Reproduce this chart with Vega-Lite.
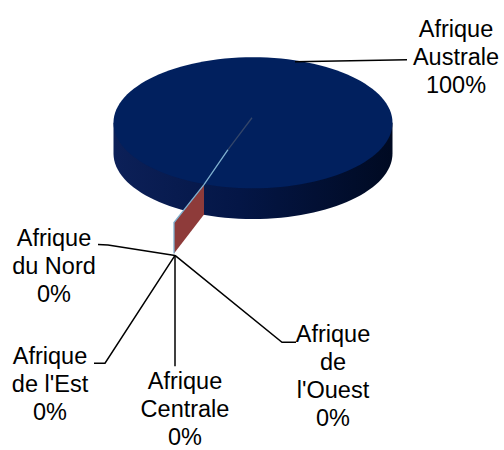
{
  "$schema": "https://vega.github.io/schema/vega-lite/v6.json",
  "width": 504,
  "height": 450,
  "padding": 0,
  "autosize": {"type": "fit", "contains": "padding"},
  "background": "#ffffff",
  "config": {"view": {"stroke": null}},
  "datasets": {
    "regions": [
      {"region": "Afrique Australe", "pct": 100, "label": "Afrique\nAustrale\n100%", "lx": 1.4552, "ly": 0.6165},
      {"region": "Afrique du Nord", "pct": 0, "label": "Afrique\ndu Nord\n0%", "lx": -1.4265, "ly": -0.8889},
      {"region": "Afrique de l'Est", "pct": 0, "label": "Afrique\nde l'Est\n0%", "lx": -1.4552, "ly": -1.7348},
      {"region": "Afrique Centrale", "pct": 0, "label": "Afrique\nCentrale\n0%", "lx": -0.4875, "ly": -1.914},
      {"region": "Afrique de l'Ouest", "pct": 0, "label": "Afrique\nde\nl'Ouest\n0%", "lx": 0.5735, "ly": -1.5771}
    ],
    "pie": [
      {"region": "Afrique Australe", "pct": 100, "cx": 0, "cy": 0}
    ],
    "cutface": [
      {"part": "exploded slices", "cx": -0.5663, "cy": -0.7168, "cy2": -0.9391},
      {"part": "exploded slices", "cx": -0.3513, "cy": -0.4444, "cy2": -0.6595}
    ],
    "edges": [
      {"edge": "light", "seq": 1, "cx": -0.5663, "cy": -0.9391},
      {"edge": "light", "seq": 2, "cx": -0.5663, "cy": -0.7168},
      {"edge": "light", "seq": 3, "cx": -0.3513, "cy": -0.4444},
      {"edge": "light", "seq": 4, "cx": -0.1792, "cy": -0.1935},
      {"edge": "dark", "seq": 1, "cx": -0.1792, "cy": -0.1935},
      {"edge": "dark", "seq": 2, "cx": -0.0072, "cy": 0.0358}
    ],
    "leaders": [
      {"region": "Afrique Australe", "seq": 1, "cx": 0.3011, "cy": 0.4373},
      {"region": "Afrique Australe", "seq": 2, "cx": 1.1039, "cy": 0.4516},
      {"region": "Afrique du Nord", "seq": 1, "cx": -1.1111, "cy": -0.8746},
      {"region": "Afrique du Nord", "seq": 2, "cx": -1.0394, "cy": -0.8781},
      {"region": "Afrique du Nord", "seq": 3, "cx": -0.5591, "cy": -0.9534},
      {"region": "Afrique de l'Est", "seq": 1, "cx": -1.1398, "cy": -1.7276},
      {"region": "Afrique de l'Est", "seq": 2, "cx": -1.0609, "cy": -1.7276},
      {"region": "Afrique de l'Est", "seq": 3, "cx": -0.5591, "cy": -0.9534},
      {"region": "Afrique Centrale", "seq": 1, "cx": -0.5591, "cy": -0.9534},
      {"region": "Afrique Centrale", "seq": 2, "cx": -0.5591, "cy": -1.7491},
      {"region": "Afrique de l'Ouest", "seq": 1, "cx": -0.5591, "cy": -0.9534},
      {"region": "Afrique de l'Ouest", "seq": 2, "cx": 0.2079, "cy": -1.5771},
      {"region": "Afrique de l'Ouest", "seq": 3, "cx": 0.3082, "cy": -1.5771}
    ]
  },
  "layer": [
    {
      "data": {"name": "pie"},
      "mark": {
        "type": "point",
        "filled": true,
        "opacity": 1,
        "strokeWidth": 0,
        "size": 77841,
        "shape": "M-1,0L-1,0.2201C-1,0.4794,-0.5523,0.6896,0,0.6896C0.5523,0.6896,1,0.4794,1,0.2201L1,0Z",
        "fill": {
          "gradient": "linear",
          "x1": 0, "y1": 0, "x2": 1, "y2": 0,
          "stops": [
            {"offset": 0, "color": "#0c2058"},
            {"offset": 0.45, "color": "#041646"},
            {"offset": 1, "color": "#000a22"}
          ]
        }
      },
      "encoding": {
        "x": {"field": "cx", "type": "quantitative", "scale": {"domain": [-1.8136, 1.7993], "nice": false, "zero": false}, "axis": null},
        "y": {"field": "cy", "type": "quantitative", "scale": {"domain": [-2.3441, 0.8817], "nice": false, "zero": false}, "axis": null}
      }
    },
    {
      "data": {"name": "pie"},
      "mark": {
        "type": "point",
        "filled": true,
        "opacity": 1,
        "strokeWidth": 0,
        "size": 77841,
        "shape": "M-1,0C-1,-0.2593,-0.5523,-0.4695,0,-0.4695C0.5523,-0.4695,1,-0.2593,1,0C1,0.2593,0.5523,0.4695,0,0.4695C-0.5523,0.4695,-1,0.2593,-1,0Z",
        "fill": "#01205e"
      },
      "encoding": {
        "x": {"field": "cx", "type": "quantitative", "scale": {"domain": [-1.8136, 1.7993], "nice": false, "zero": false}, "axis": null},
        "y": {"field": "cy", "type": "quantitative", "scale": {"domain": [-2.3441, 0.8817], "nice": false, "zero": false}, "axis": null}
      }
    },
    {
      "data": {"name": "cutface"},
      "mark": {"type": "area", "color": "#8e3b3a", "opacity": 1},
      "encoding": {
        "x": {"field": "cx", "type": "quantitative", "scale": {"domain": [-1.8136, 1.7993], "nice": false, "zero": false}, "axis": null},
        "y": {"field": "cy", "type": "quantitative", "scale": {"domain": [-2.3441, 0.8817], "nice": false, "zero": false}, "axis": null},
        "y2": {"field": "cy2"}
      }
    },
    {
      "data": {"name": "edges"},
      "mark": {"type": "line", "strokeWidth": 1.3},
      "encoding": {
        "x": {"field": "cx", "type": "quantitative", "scale": {"domain": [-1.8136, 1.7993], "nice": false, "zero": false}, "axis": null},
        "y": {"field": "cy", "type": "quantitative", "scale": {"domain": [-2.3441, 0.8817], "nice": false, "zero": false}, "axis": null},
        "detail": {"field": "edge", "type": "nominal"},
        "order": {"field": "seq", "type": "quantitative"},
        "color": {"field": "edge", "type": "nominal", "scale": {"domain": ["light", "dark"], "range": ["#7fb0cf", "#34466a"]}, "legend": null}
      }
    },
    {
      "data": {"name": "leaders"},
      "mark": {"type": "line", "color": "#000000", "strokeWidth": 1.5},
      "encoding": {
        "x": {"field": "cx", "type": "quantitative", "scale": {"domain": [-1.8136, 1.7993], "nice": false, "zero": false}, "axis": null},
        "y": {"field": "cy", "type": "quantitative", "scale": {"domain": [-2.3441, 0.8817], "nice": false, "zero": false}, "axis": null},
        "detail": {"field": "region", "type": "nominal"},
        "order": {"field": "seq", "type": "quantitative"}
      }
    },
    {
      "data": {"name": "regions"},
      "mark": {
        "type": "text",
        "font": "Liberation Sans",
        "fontSize": 23.5,
        "lineHeight": 28,
        "lineBreak": "\n",
        "align": "center",
        "baseline": "alphabetic",
        "color": "#000000"
      },
      "encoding": {
        "x": {"field": "lx", "type": "quantitative", "scale": {"domain": [-1.8136, 1.7993], "nice": false, "zero": false}, "axis": null},
        "y": {"field": "ly", "type": "quantitative", "scale": {"domain": [-2.3441, 0.8817], "nice": false, "zero": false}, "axis": null},
        "text": {"field": "label", "type": "nominal"}
      }
    }
  ]
}
